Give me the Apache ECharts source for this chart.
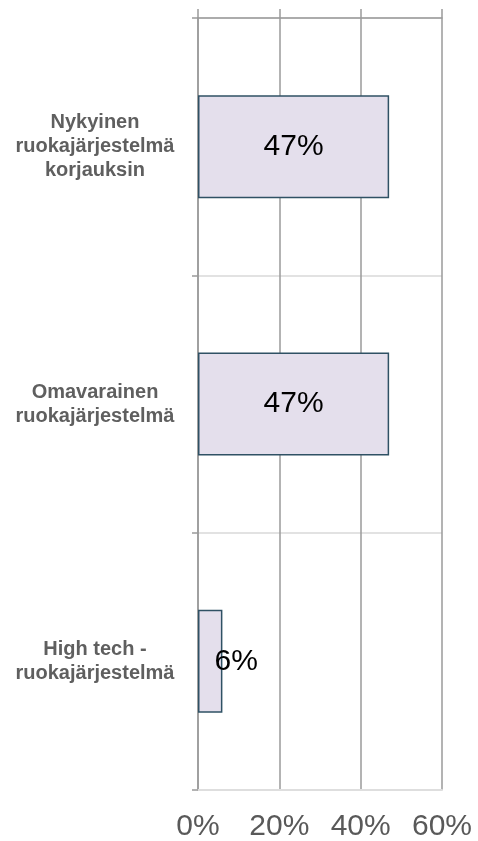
<!DOCTYPE html>
<html>
<head>
<meta charset="utf-8">
<script src="https://cdn.jsdelivr.net/npm/echarts@6/dist/echarts.min.js"></script>
<style>
  html, body { margin: 0; padding: 0; background: #fff; }
  #chart { width: 478px; height: 841px; }
</style>
</head>
<body>
<div id="chart"></div>
<script>
const categories = [
  "Nykyinen\nruokajärjestelmä\nkorjauksin",
  "Omavarainen\nruokajärjestelmä",
  "High tech -\nruokajärjestelmä",
];
const values = [47, 47, 6];
const xMin = 0;
const xMax = 60;
const xStep = 20;

const font = "'Liberation Sans', Arial, sans-serif";
const gridGray = "#9a9a9a";

const chart = echarts.init(document.getElementById("chart"));

const barData = values.map((v) => ({
  value: v,
  // small bar: label sits a bit right of centre, like the original
  label: v < 10 ? { offset: [26, 0] } : {},
}));

chart.setOption({
  animation: false,
  grid: { left: 198, right: 36, top: 18, bottom: 51, outerBoundsMode: "none" },
  xAxis: [
    {
      type: "value",
      position: "bottom",
      min: xMin,
      max: xMax,
      interval: xStep,
      axisLine: { show: true, lineStyle: { color: "#dedede", width: 2 } },
      axisTick: { show: false },
      axisLabel: {
        formatter: "{value}%",
        color: "#595959",
        fontSize: 30,
        fontFamily: font,
        margin: 22,
      },
      splitLine: { show: true, lineStyle: { color: gridGray, width: 1.5 } },
    },
    {
      type: "value",
      position: "top",
      min: xMin,
      max: xMax,
      interval: xStep,
      axisLine: { show: true, lineStyle: { color: gridGray, width: 1.5 } },
      axisTick: { show: true, inside: false, length: 9, lineStyle: { color: gridGray, width: 1.5 } },
      axisLabel: { show: false },
      splitLine: { show: false },
    },
  ],
  yAxis: {
    type: "category",
    data: categories,
    inverse: true,
    axisLine: { show: true, lineStyle: { color: gridGray, width: 1.5 } },
    axisTick: { show: true, inside: false, length: 6, lineStyle: { color: gridGray, width: 1.5 } },
    axisLabel: {
      color: "#5f5f5f",
      fontSize: 20,
      fontWeight: "bold",
      fontFamily: font,
      lineHeight: 24,
      align: "center",
      margin: 103,
    },
    splitLine: { show: true, lineStyle: { color: "#e2e2e2", width: 2 } },
  },
  series: [
    {
      type: "bar",
      data: barData,
      barWidth: "40%",
      itemStyle: { color: "#e4dfec", borderColor: "#2f5164", borderWidth: 1.5 },
      label: {
        show: true,
        position: "inside",
        formatter: "{c}%",
        color: "#000",
        fontSize: 30,
        fontFamily: font,
      },
    },
  ],
});
</script>
</body>
</html>
